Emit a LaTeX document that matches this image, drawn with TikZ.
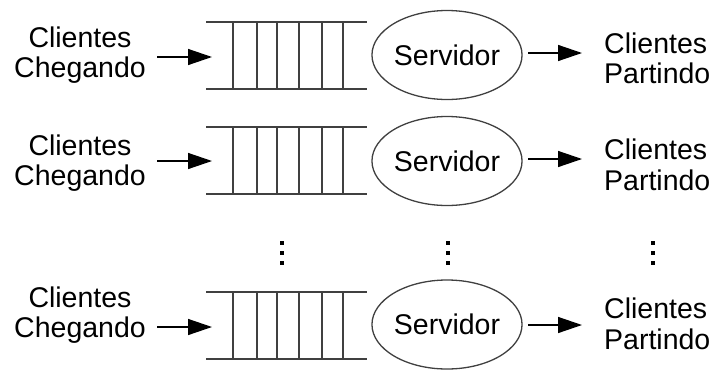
\documentclass[tikz,border=0pt]{standalone}
\usepackage{fontspec}
\setmainfont{Liberation Sans}
\usetikzlibrary{arrows.meta,shapes.geometric}
\begin{document}
\begin{tikzpicture}[x=1pt,y=-1pt,
  lbl/.style={inner sep=0pt,font=\fontsize{28.5}{30.5}\selectfont},
  srv/.style={draw=black!75,line width=1.3pt,ellipse,minimum width=147pt,minimum height=89pt,inner sep=0pt,font=\fontsize{28.5}{30.5}\selectfont},
  qline/.style={draw=black!75,line width=1.8pt},
  arr/.style={draw=black,line width=1.4pt,-{Triangle[length=24pt,width=16pt]}},
  dotsq/.style={fill=black,inner sep=0pt,minimum size=4.5pt}]
\useasboundingbox (0,0) rectangle (717,370);
% row data: name / text y / queue top / queue bottom / left arrow y / server y / right arrow y / right text y
\foreach \r/\ty/\qt/\qb/\ay/\sy/\by/\oy in {1/55/22/89/57/55/53/58.5, 2/163/127/194/161/161/159/165, 3/315/292/359/327/324.5/325/324}{
  \node[lbl,align=center] (in\r) at (80,\ty) {Clientes\\Chegando};
  \coordinate (a\r) at (157,\ay);
  \coordinate (q\r) at (212,\ay);
  \draw[arr] (a\r) -- (q\r);
  \draw[qline] (206,\qt) -- (367,\qt);
  \draw[qline] (206,\qb) -- (367,\qb);
  \foreach \x in {233,257,277,299,322,343}{
    \draw[qline,line width=1.4pt] (\x,\qt) -- (\x,\qb);
  }
  \node[srv] (s\r) at (447,\sy) {Servidor};
  \coordinate (b\r) at (528,\by);
  \coordinate (c\r) at (582,\by);
  \draw[arr] (b\r) -- (c\r);
  \node[lbl,align=left,anchor=west] (out\r) at (604,\oy) {Clientes\\Partindo};
}
% vertical ellipses
\foreach \x in {282,448,653}{
  \foreach \y in {243,253,263}{
    \node[dotsq] at (\x,\y) {};
  }
}
\end{tikzpicture}
\end{document}
